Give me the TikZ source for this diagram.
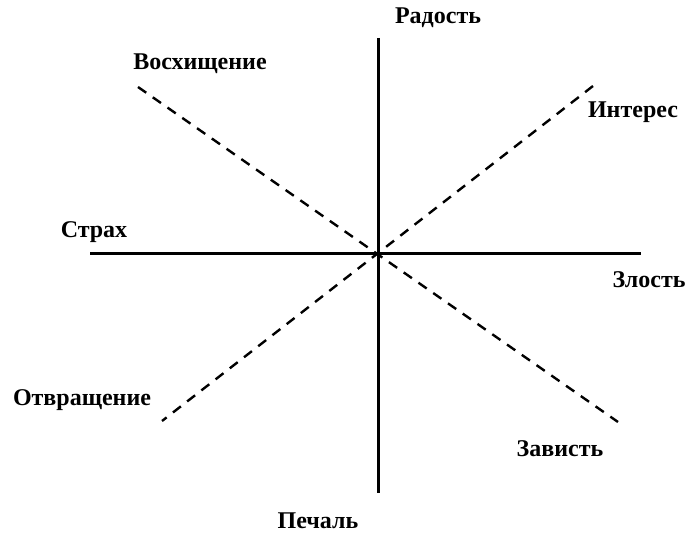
\documentclass[tikz,border=0pt]{standalone}
\usepackage{fontspec}
\setmainfont{Liberation Serif}
\begin{document}
\begin{tikzpicture}[x=1pt,y=-1pt,
  lbl/.style={font=\bfseries\fontsize{24}{28}\selectfont, inner sep=0pt},
  axis/.style={line width=3pt},
  diag/.style={line width=2.4pt, dash pattern=on 10pt off 8pt}]
\useasboundingbox (0,0) rectangle (690,534);
\coordinate (top) at (378,38);
\coordinate (bot) at (378,493);
\coordinate (lft) at (90,254);
\coordinate (rgt) at (641,254);
\coordinate (ul) at (138,87);
\coordinate (lr) at (618,422);
\coordinate (ur) at (593,86);
\coordinate (ll) at (162,421);
\draw[axis] (top) -- (bot);
\draw[axis] (lft) -- (rgt);
\draw[diag] (ul) -- (lr);
\draw[diag] (ur) -- (ll);
\node[lbl] (rad) at (438,18) {Радость};
\node[lbl] (vos) at (200,64) {Восхищение};
\node[lbl] (int) at (633,112) {Интерес};
\node[lbl] (str) at (94,232) {Страх};
\node[lbl] (zlo) at (649,280) {Злость};
\node[lbl] (otv) at (82,400) {Отвращение};
\node[lbl] (zav) at (560,449) {Зависть};
\node[lbl] (pec) at (318,521) {Печаль};
\end{tikzpicture}
\end{document}
